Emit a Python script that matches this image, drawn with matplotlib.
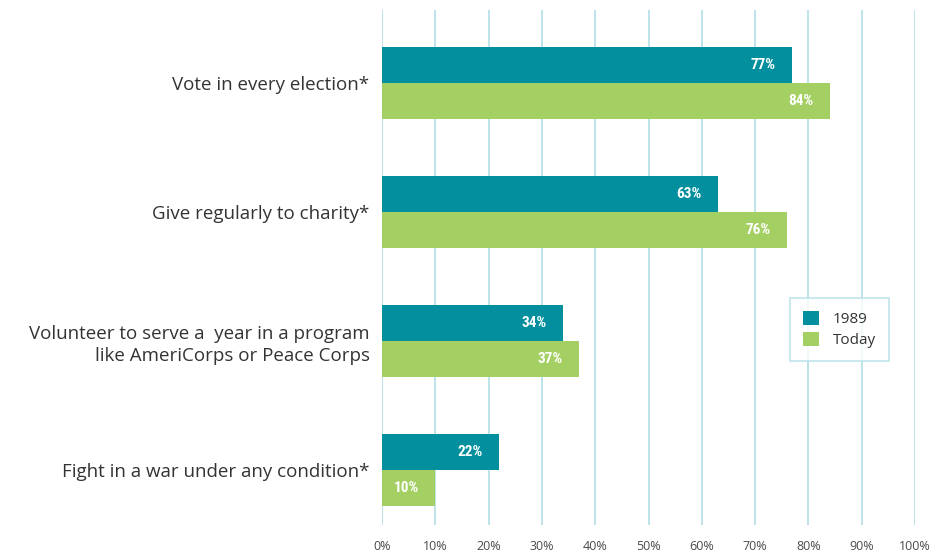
import matplotlib
matplotlib.use("Agg")
import matplotlib.pyplot as plt
from matplotlib import font_manager
import numpy as np

categories = [
    "Vote in every election*",
    "Give regularly to charity*",
    "Volunteer to serve a  year in a program\nlike AmeriCorps or Peace Corps",
    "Fight in a war under any condition*",
]
series_names = ["1989", "Today"]
values_1989 = [77, 63, 34, 22]
values_today = [84, 76, 37, 10]
x_ticks = [0, 10, 20, 30, 40, 50, 60, 70, 80, 90, 100]
x_tick_labels = [f"{t}%" for t in x_ticks]

teal = "#038f9e"
green = "#a4cf63"
grid_col = "#b8e0e8"
text_col = "#333333"

installed = {f.name for f in font_manager.fontManager.ttflist}
narrow = [n for n in ["Liberation Sans Narrow", "DejaVu Sans Condensed", "Roboto Condensed"] if n in installed]
label_family = narrow + ["Roboto", "DejaVu Sans"]

fig = plt.figure(figsize=(9.38, 5.55), dpi=100)
ax = fig.add_axes([382 / 938, 30 / 555, 533 / 938, 515 / 555])

y = np.arange(len(categories))
h = 0.28
bars_a = ax.barh(y - h / 2, values_1989, height=h, color=teal, label=series_names[0], zorder=3)
bars_b = ax.barh(y + h / 2, values_today, height=h, color=green, label=series_names[1], zorder=3)

for bars, vals in ((bars_a, values_1989), (bars_b, values_today)):
    for b, v in zip(bars, vals):
        ax.annotate(f"{v}%", xy=(v, b.get_y() + b.get_height() / 2),
                    xytext=(-12, 0), textcoords="offset points",
                    ha="right", va="center", color="white",
                    fontsize=11, fontweight="bold",
                    family=label_family, zorder=4)

ax.set_xlim(0, 100)
ax.set_ylim(len(categories) - 1 + 0.426, -0.566)
ax.set_xticks(x_ticks)
ax.set_xticklabels(x_tick_labels, fontsize=9, color="#4a4a4a", family="Open Sans")
ax.set_yticks(y)
ax.set_yticklabels(categories, fontsize=13.5, color=text_col, family="Open Sans",
                   ha="right", multialignment="right", linespacing=1.3)
ax.tick_params(axis="x", length=0, pad=11)
ax.tick_params(axis="y", length=0, pad=9)

for t in x_ticks:
    ax.axvline(t, color=grid_col, linewidth=1.3, zorder=1)
for s in ax.spines.values():
    s.set_visible(False)

leg = ax.legend(loc="upper left", bbox_to_anchor=(0.765, 0.441), frameon=True,
                fancybox=False, handlelength=1.05, handleheight=1.05,
                handletextpad=0.9, borderpad=0.85, labelspacing=0.3,
                borderaxespad=0, prop={"family": "Open Sans", "size": 11})
leg.get_frame().set_edgecolor(grid_col)
leg.get_frame().set_linewidth(1.3)
for txt in leg.get_texts():
    txt.set_color(text_col)

fig.savefig("out.png", dpi=100)
